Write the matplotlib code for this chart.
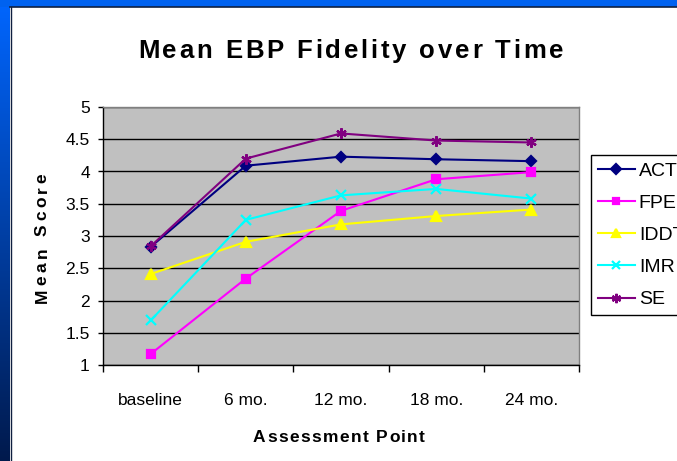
import numpy as np
import matplotlib
matplotlib.use("Agg")
import matplotlib.pyplot as plt
from matplotlib.patches import Rectangle
from matplotlib.font_manager import FontProperties

plt.rcParams['font.family'] = ['Liberation Sans', 'DejaVu Sans']

categories = ["baseline", "6 mo.", "12 mo.", "18 mo.", "24 mo."]
act = [2.83, 4.09, 4.23, 4.19, 4.16]
fpe = [1.17, 2.34, 3.39, 3.88, 3.99]
iddt = [2.41, 2.91, 3.18, 3.31, 3.41]
imr = [1.69, 3.25, 3.63, 3.73, 3.58]
se = [2.84, 4.20, 4.59, 4.48, 4.45]
series_names = ["ACT", "FPE", "IDDT", "IMR", "SE"]
y_ticks = [1, 1.5, 2, 2.5, 3, 3.5, 4, 4.5, 5]
title = "Mean EBP Fidelity over Time"
xlabel = "Assessment Point"
ylabel = "Mean Score"

W, H = 677, 461
fig = plt.figure(figsize=(W / 100, H / 100), dpi=100)
fig.patch.set_facecolor("white")

# blue frame: left gradient stripe and top stripe
bg = fig.add_axes([0, 0, 1, 1], zorder=-10)
bg.set_xlim(0, W)
bg.set_ylim(H, 0)
bg.axis("off")
grad = np.linspace(0, 1, 256).reshape(-1, 1)
top_c = np.array([0.0, 0.40, 1.0])
bot_c = np.array([0.0, 0.10, 0.30])
img = top_c[None, None, :] * (1 - grad[:, :, None]) + bot_c[None, None, :] * grad[:, :, None]
bg.imshow(img, extent=[0, 10, H, 0], aspect="auto", zorder=0)
bg.add_patch(Rectangle((0, 0), W, 7, facecolor="#0062f0", edgecolor="none", zorder=1))
bg.plot([10, W], [7.5, 7.5], color="#102040", lw=1.2, zorder=2)
bg.plot([10.5, 10.5], [7, H], color="#102040", lw=1.0, zorder=2)

ax = fig.add_axes([103 / W, 1 - 365 / H, 476 / W, 258 / H])
ax.set_facecolor("#C0C0C0")
x = np.arange(len(categories))

styles = [
    (act, "#000080", "D", 5.5),
    (fpe, "#FF00FF", "s", 5.5),
    (iddt, "#FFFF00", "^", 7),
    (imr, "#00FFFF", "x", 6.5),
    (se, "#800080", (6, 2, 0), 7.5),
]
for (vals, col, mk, ms), name in zip(styles, series_names):
    ax.plot(x, vals, color=col, lw=1.5, marker=mk, markersize=ms,
            markerfacecolor=col, markeredgecolor=col, markeredgewidth=1.6,
            label=name, zorder=3)

ax.set_xlim(-0.5, len(categories) - 0.5)
ax.set_ylim(1, 5)
ax.set_yticks(y_ticks)
ax.set_yticklabels([f"{v:g}" for v in y_ticks], fontsize=12.5)
ax.yaxis.grid(True, color="black", lw=1.0)
ax.set_axisbelow(True)
ax.set_xticks(np.arange(-0.5, len(categories), 1.0))
ax.set_xticklabels([])
ax.set_xticks(x, minor=True)
ax.set_xticklabels(categories, minor=True, fontsize=12.5)
ax.tick_params(axis="x", which="minor", length=0, pad=20)
ax.tick_params(axis="x", which="major", length=5, width=1, direction="out")
ax.tick_params(axis="y", length=3.5, width=1, direction="out", pad=6)
for s in ["top", "right"]:
    ax.spines[s].set_color("#808080")
    ax.spines[s].set_linewidth(1.0)
for s in ["left", "bottom"]:
    ax.spines[s].set_color("black")
    ax.spines[s].set_linewidth(1.0)

renderer = fig.canvas.get_renderer()


def spaced_text(s, cx, cy, size, target_len, rotation=0):
    """Draw bold text with extra letter spacing; cx, cy in pixels from top-left,
    cy is the baseline (horizontal) / cx is the baseline (vertical)."""
    prop = FontProperties(family="Liberation Sans", weight="bold", size=size)

    def w(t):
        return renderer.get_text_width_height_descent(t, prop, ismath=False)[0]

    base = w("||")
    advs = [w("|" + c + "|") - base for c in s]
    gap = (target_len - sum(advs)) / (len(s) - 1)
    pos = -target_len / 2
    for c, a in zip(s, advs):
        mid = pos + a / 2
        if rotation == 0:
            px, py = cx + mid, cy
        else:
            px, py = cx, cy - mid
        fig.text(px / W, 1 - py / H, c, fontproperties=prop, ha="center",
                 va="baseline", rotation=rotation, rotation_mode="anchor")
        pos += a + gap


spaced_text(title, 350.5, 58, 18.5, 425)
spaced_text(xlabel, 339, 442, 12.5, 172)
spaced_text(ylabel, 46.5, 238, 12.5, 130, rotation=90)

leg = ax.legend(loc="upper left", bbox_to_anchor=(591 / W, 1 - 155 / H),
                bbox_transform=fig.transFigure, fontsize=14, frameon=True,
                fancybox=False, edgecolor="black", framealpha=1, borderpad=0.36,
                handlelength=1.9, handletextpad=0.2, labelspacing=0.75,
                borderaxespad=0, markerscale=0.9)
leg.get_frame().set_linewidth(1.0)

fig.savefig("out.png", dpi=100)
